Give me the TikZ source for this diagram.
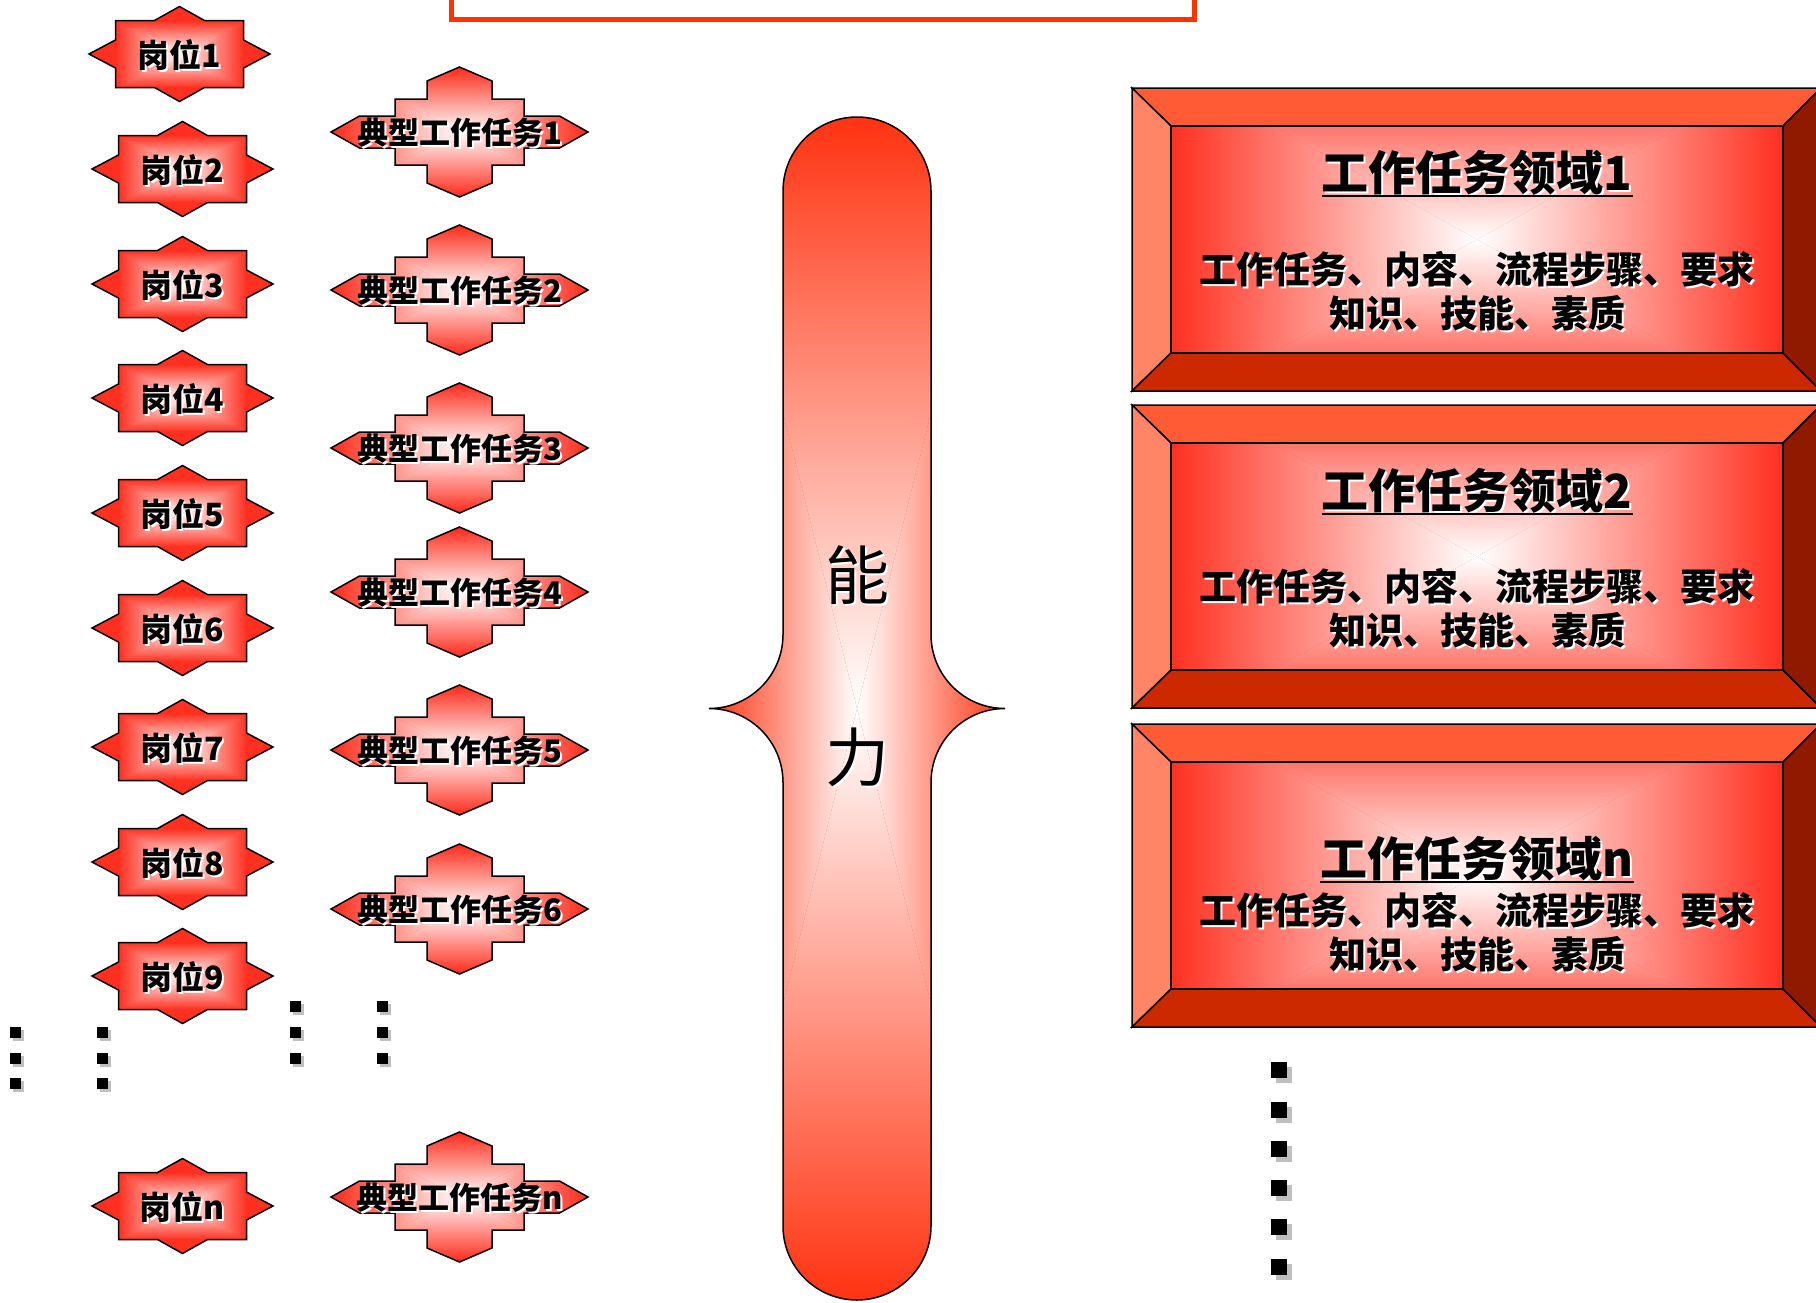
\documentclass[tikz,border=0pt]{standalone}
\usepackage{fontspec}
\setmainfont{Noto Sans CJK SC}

\definecolor{starred}{RGB}{255,48,32}
\definecolor{capred}{RGB}{255,51,17}
\definecolor{bevtop}{RGB}{255,92,53}
\definecolor{bevleft}{RGB}{255,133,102}
\definecolor{bevbot}{RGB}{204,41,0}
\definecolor{bevright}{RGB}{143,26,0}
\definecolor{topline}{RGB}{255,51,0}

% black text with a white shadow
\newcommand\wsh[1]{\rlap{\hspace{2pt}\raisebox{-2pt}{\color{white}#1}}#1}
% shape filled white in the middle, #4 at the edges
\newcommand\gradfill[4]{%
  \begin{scope}
    \clip #1;
    \fill[#4] #1;
    \shade[left color=#4, right color=white] (-#2,-#3) -- (0,0) -- (-#2,#3) -- cycle;
    \shade[right color=#4, left color=white] (#2,-#3) -- (0,0) -- (#2,#3) -- cycle;
    \shade[top color=#4, bottom color=white] (-#2,-#3) -- (0,0) -- (#2,-#3) -- cycle;
    \shade[bottom color=#4, top color=white] (-#2,#3) -- (0,0) -- (#2,#3) -- cycle;
  \end{scope}
  \draw[outline] #1;}

\def\starpath{(-90.5,0) -- (-64,-14) -- (-64,-33.5) -- (-25,-33.5) -- (0,-47.5)
  -- (25,-33.5) -- (64,-33.5) -- (64,-14) -- (90.5,0) -- (64,14) -- (64,33.5)
  -- (25,33.5) -- (0,47.5) -- (-25,33.5) -- (-64,33.5) -- (-64,14) -- cycle}
\def\taskpath{(-128.5,0) -- (-100,-16) -- (-64.5,-16) -- (-64.5,-33) -- (-32.5,-33)
  -- (-32.5,-51) -- (0,-65) -- (32.5,-51) -- (32.5,-33) -- (64.5,-33) -- (64.5,-16)
  -- (100,-16) -- (128.5,0) -- (100,16) -- (64.5,16) -- (64.5,33) -- (32.5,33)
  -- (32.5,51) -- (0,65) -- (-32.5,51) -- (-32.5,33) -- (-64.5,33) -- (-64.5,16)
  -- (-100,16) -- cycle}
\def\capsulepath{(-74,-517.5) -- (-74,-74) arc[start angle=0,end angle=90,radius=74]
  arc[start angle=-90,end angle=0,radius=74] -- (-74,517.5)
  arc[start angle=180,end angle=0,radius=74] -- (74,74)
  arc[start angle=180,end angle=270,radius=74]
  arc[start angle=90,end angle=180,radius=74] -- (74,-517.5)
  arc[start angle=0,end angle=-180,radius=74] -- cycle}

\tikzset{
  outline/.style={draw=black, line width=1.5},
  post/.style={font=\fontsize{32}{32}\selectfont\bfseries, inner sep=0},
  task/.style={font=\fontsize{31}{31}\selectfont\bfseries, inner sep=0},
  domtitle/.style={font=\fontsize{47}{47}\selectfont\bfseries, inner sep=0},
  dombody/.style={font=\fontsize{37}{37}\selectfont\bfseries, inner sep=0},
  ability/.style={font=\fontsize{64}{64}\selectfont, inner sep=0},
}

\begin{document}
\begin{tikzpicture}[x=1pt, y=-1pt]
\useasboundingbox (0,0) rectangle (1816,1302);
\clip (0,0) rectangle (1816,1302);

% title frame, cut off at the top
\draw[line width=5, topline] (451,-60) rectangle (1194,19);

% posts
\foreach \n/\x/\y in {1/179.5/54, 2/182.5/169, 3/182.5/284, 4/182.5/398,
    5/182.5/513, 6/182.5/628, 7/182.5/747, 8/182.5/862, 9/182.5/976, n/182.5/1206}{
  \begin{scope}[shift={(\x,\y)}]
    \gradfill{\starpath}{64}{33.5}{starred}
    \node[post] (post\n) at (0,2) {\wsh{岗位\n}};
  \end{scope}
}

% typical tasks
\foreach \n/\y in {1/132, 2/290, 3/448, 4/592, 5/750, 6/909, n/1197}{
  \begin{scope}[shift={(459.5,\y)}]
    \gradfill{\taskpath}{124}{63}{starred}
    \node[task] (task\n) at (0,2) {\wsh{典型工作任务\n}};
  \end{scope}
}

% dots
\foreach \x/\y in {15/1032, 15/1058, 15/1083, 102/1032, 102/1058, 102/1083,
    295/1006, 295/1032, 295/1058, 382/1006, 382/1032, 382/1058}{
  \fill[black!25] (\x-2.5,\y-2.5) rectangle +(11,11);
  \fill (\x-5.5,\y-5.5) rectangle +(11,11);
}
\foreach \y in {1070, 1110, 1149, 1188, 1227, 1267}{
  \fill[black!25] (1276,\y-3) rectangle +(16,16);
  \fill (1271,\y-8) rectangle +(16,16);
}

% ability
\begin{scope}[shift={(857,708.5)}]
  \gradfill{\capsulepath}{148}{591.5}{capred}
\end{scope}
\node[ability] (neng) at (857,576) {\wsh{能}};
\node[ability] (li) at (857,758) {\wsh{力}};

% task domains
\foreach \t/\y/\ty/\ly in {1/88/86/182, 2/405/87/182, n/724/136/187}{
  \begin{scope}[shift={(0,\y)}]
    \filldraw[outline, fill=bevtop] (1132,0) -- (1821,0) -- (1783,38) -- (1171,38) -- cycle;
    \filldraw[outline, fill=bevleft] (1132,0) -- (1171,38) -- (1171,265) -- (1132,303) -- cycle;
    \filldraw[outline, fill=bevbot] (1132,303) -- (1171,265) -- (1783,265) -- (1821,303) -- cycle;
    \filldraw[outline, fill=bevright] (1821,0) -- (1821,303) -- (1783,265) -- (1783,38) -- cycle;
    \begin{scope}[shift={(1477,151.5)}]
      \gradfill{(-306,-113.5) rectangle (306,113.5)}{306}{170}{starred}
    \end{scope}
    \node[domtitle] (dom\t) at (1477,\ty) {\wsh{工作任务领域\t}};
    \draw[line width=2] ([yshift=-5pt]dom\t.base west) -- ([yshift=-5pt]dom\t.base east);
    \node[dombody] (line\t-1) at (1477,\ly) {\wsh{工作任务、内容、流程步骤、要求}};
    \node[dombody] (line\t-2) at (1477,\ly+44) {\wsh{知识、技能、素质}};
  \end{scope}
}
\end{tikzpicture}
\end{document}
